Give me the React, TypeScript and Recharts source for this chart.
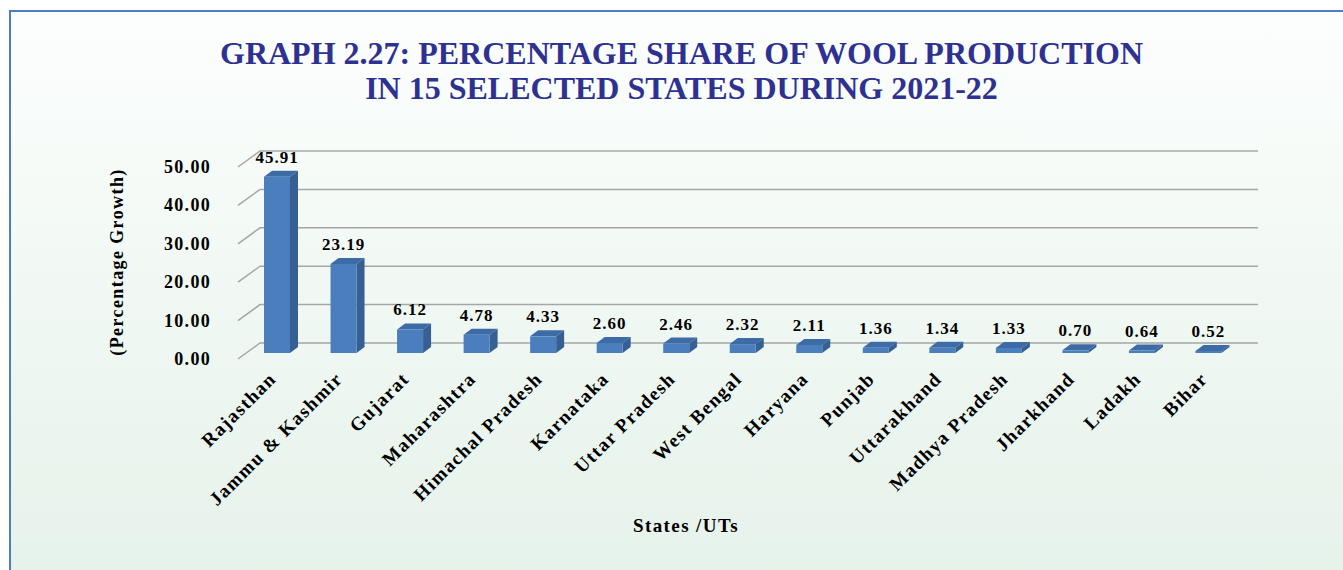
import React from "react"
import { BarChart, Bar, XAxis, YAxis, CartesianGrid, LabelList } from "recharts"

const states = [
  "Rajasthan",
  "Jammu & Kashmir",
  "Gujarat",
  "Maharashtra",
  "Himachal Pradesh",
  "Karnataka",
  "Uttar Pradesh",
  "West Bengal",
  "Haryana",
  "Punjab",
  "Uttarakhand",
  "Madhya Pradesh",
  "Jharkhand",
  "Ladakh",
  "Bihar",
]
const shares = [45.91, 23.19, 6.12, 4.78, 4.33, 2.6, 2.46, 2.32, 2.11, 1.36, 1.34, 1.33, 0.7, 0.64, 0.52]
const yTicks = [0, 10, 20, 30, 40, 50]

const data = states.map((state, i) => ({ state, share: shares[i] }))

const W = 1343
const H = 570
const PLOT_LEFT = 238
const PLOT_RIGHT = 1236
const PLOT_TOP = 167
const PLOT_BOTTOM = 359
const Y_AXIS_W = 60
const X_AXIS_H = 150

// depth offsets for the fake 3d look
const WALL_DX = 22
const WALL_DY = -16
const BAR_DX = 6
const BAR_DY = -6
const SIDE_DX = 8
const SIDE_DY = -6

const FONT = "'Liberation Serif', 'Times New Roman', serif"
const FRONT = "#4a7ebd"
const TOP = "#3d6ba6"
const SIDE = "#365f94"

function GridLine(props: any) {
  const { x1, x2, y1 } = props
  return (
    <path
      d={`M${x1},${y1} L${x1 + WALL_DX},${y1 + WALL_DY} L${x2 + WALL_DX},${y1 + WALL_DY}`}
      stroke="#a6a6a6"
      strokeWidth={1.5}
      fill="none"
    />
  )
}

function Box3D(props: any) {
  const { x, y, width, height } = props
  if (height == null || width == null) return null
  const fx = x + BAR_DX
  const fy = y + BAR_DY
  return (
    <g>
      <polygon
        points={`${fx},${fy} ${fx + SIDE_DX},${fy + SIDE_DY} ${fx + width + SIDE_DX},${fy + SIDE_DY} ${fx + width},${fy}`}
        fill={TOP}
      />
      <polygon
        points={`${fx + width},${fy} ${fx + width + SIDE_DX},${fy + SIDE_DY} ${fx + width + SIDE_DX},${fy + height + SIDE_DY} ${fx + width},${fy + height}`}
        fill={SIDE}
      />
      <rect x={fx} y={fy} width={width} height={height} fill={FRONT} />
    </g>
  )
}

function ValueLabel(props: any) {
  const { x, y, width, value } = props
  return (
    <text
      x={x + width / 2 + BAR_DX}
      y={y + BAR_DY - 14}
      textAnchor="middle"
      fontFamily={FONT}
      fontWeight="bold"
      fontSize={17}
      letterSpacing={1}
      fill="#000"
    >
      {Number(value).toFixed(2)}
    </text>
  )
}

function YTick(props: any) {
  const { y, payload } = props
  return (
    <text
      x={PLOT_LEFT - 27}
      y={y + 6}
      textAnchor="end"
      fontFamily={FONT}
      fontWeight="bold"
      fontSize={18}
      letterSpacing={1.3}
      fill="#000"
    >
      {Number(payload.value).toFixed(2)}
    </text>
  )
}

function XTick(props: any) {
  const { x, payload } = props
  const tx = x + 6
  const ty = PLOT_BOTTOM + 21
  return (
    <text
      x={tx}
      y={ty}
      textAnchor="end"
      transform={`rotate(-45, ${tx}, ${ty})`}
      fontFamily={FONT}
      fontWeight="bold"
      fontSize={19}
      letterSpacing={1.4}
      fill="#000"
    >
      {payload.value}
    </text>
  )
}

export default function App() {
  return (
    <div style={{ position: "absolute", left: 0, top: 0, width: W, height: H, overflow: "hidden", background: "#fff" }}>
      <div
        style={{
          position: "absolute",
          left: 9,
          top: 10,
          width: 1400,
          height: 620,
          border: "2.5px solid #4a7ebd",
          background: "linear-gradient(180deg, #fcfefd 0%, #e5f2ea 92%)",
        }}
      />
      <div
        style={{
          position: "absolute",
          left: 0,
          top: 36,
          width: 1363,
          textAlign: "center",
          fontFamily: FONT,
          fontWeight: "bold",
          fontSize: 32,
          lineHeight: "35px",
          color: "#2e3192",
        }}
      >
        GRAPH 2.27: PERCENTAGE SHARE OF WOOL PRODUCTION
        <br />
        IN 15 SELECTED STATES DURING 2021-22
      </div>
      <div
        style={{
          position: "absolute",
          left: 117,
          top: 262,
          transform: "translate(-50%, -50%) rotate(-90deg)",
          whiteSpace: "nowrap",
          fontFamily: FONT,
          fontWeight: "bold",
          fontSize: 18,
          letterSpacing: 1.4,
          color: "#000",
        }}
      >
        (Percentage Growth)
      </div>
      <div
        style={{
          position: "absolute",
          left: 686,
          top: 526,
          transform: "translate(-50%, -50%)",
          whiteSpace: "nowrap",
          fontFamily: FONT,
          fontWeight: "bold",
          fontSize: 19,
          letterSpacing: 1.4,
          color: "#000",
        }}
      >
        States /UTs
      </div>
      <div style={{ position: "absolute", left: 0, top: 0 }}>
        <BarChart
          width={W}
          height={H}
          data={data}
          margin={{
            top: PLOT_TOP,
            right: W - PLOT_RIGHT,
            left: PLOT_LEFT - Y_AXIS_W,
            bottom: H - PLOT_BOTTOM - X_AXIS_H,
          }}
          barSize={26}
        >
          <CartesianGrid vertical={false} horizontal={(p: any) => <GridLine key={p.key ?? p.index} {...p} />} />
          <XAxis
            dataKey="state"
            interval={0}
            axisLine={false}
            tickLine={false}
            height={X_AXIS_H}
            tick={<XTick />}
          />
          <YAxis
            domain={[0, 50]}
            ticks={yTicks}
            axisLine={false}
            tickLine={false}
            width={Y_AXIS_W}
            tick={<YTick />}
          />
          <Bar dataKey="share" shape={<Box3D />} isAnimationActive={false}>
            <LabelList dataKey="share" content={<ValueLabel />} />
          </Bar>
        </BarChart>
      </div>
    </div>
  )
}
